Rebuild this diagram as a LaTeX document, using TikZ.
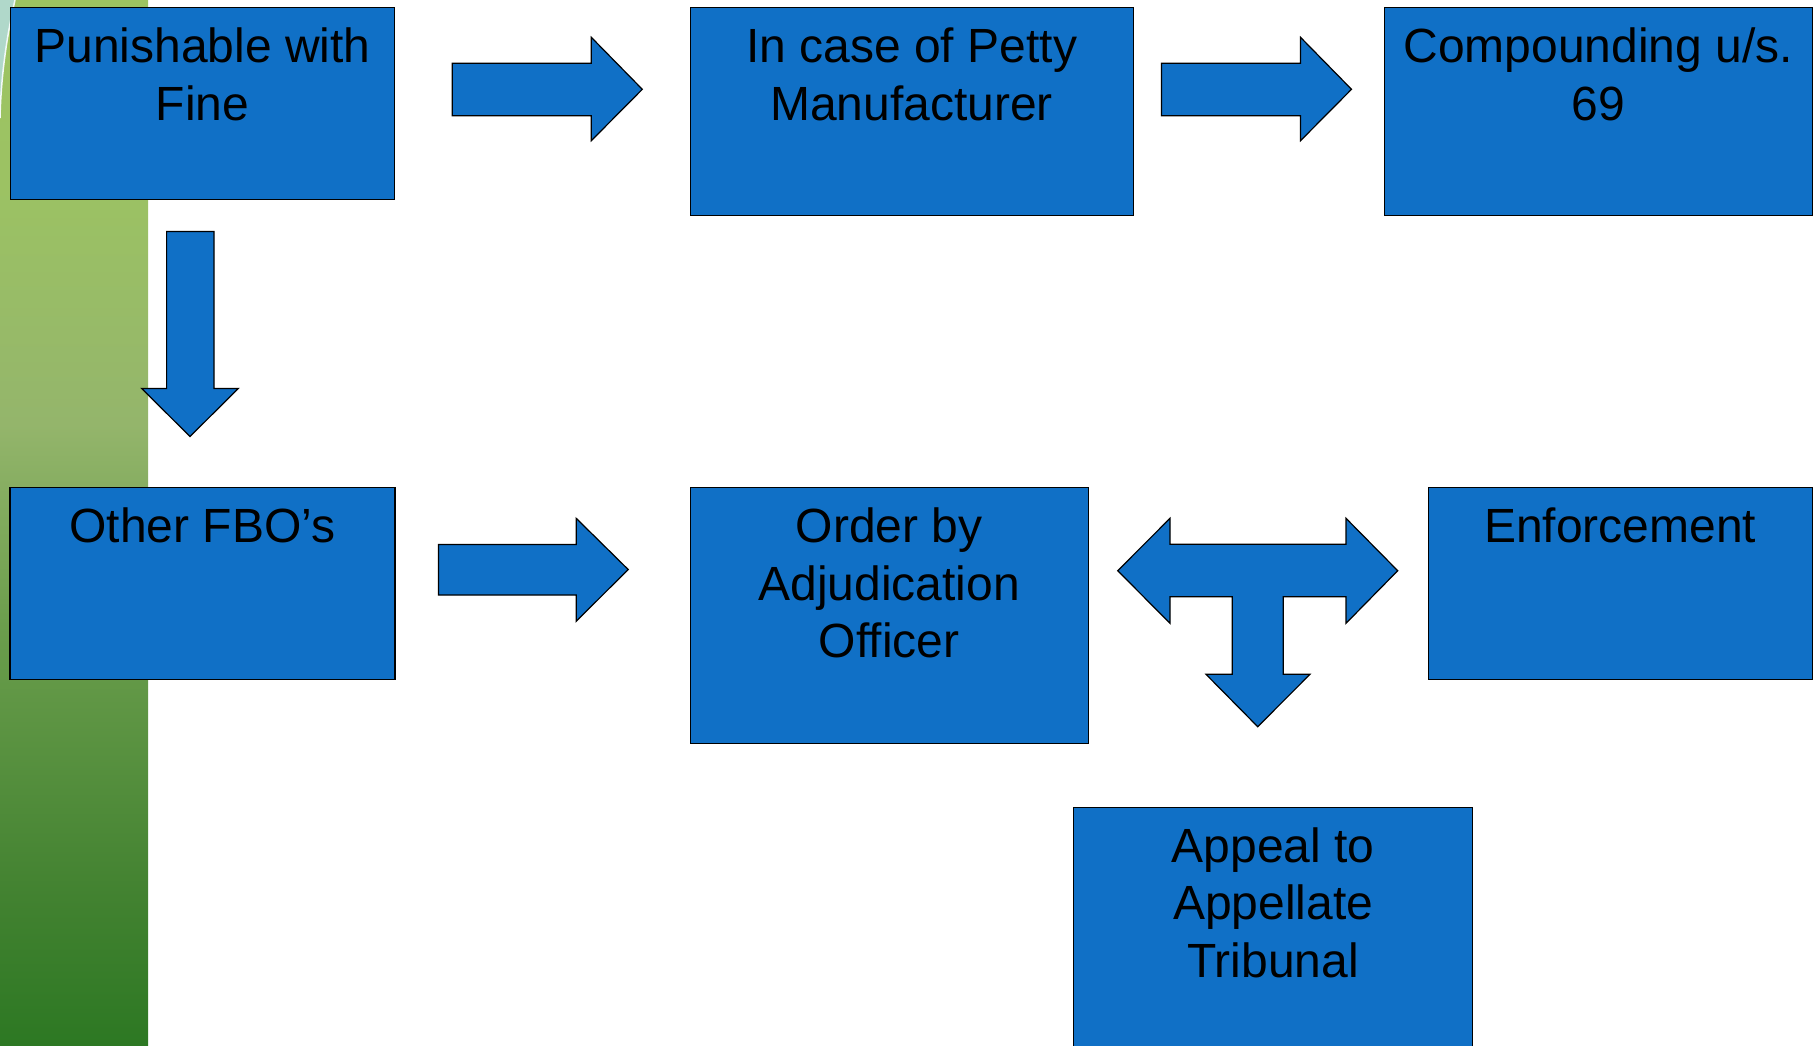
\documentclass[tikz,border=0pt]{standalone}
\usepackage{fontspec}
\setmainfont{Liberation Sans}
\definecolor{boxblue}{RGB}{16,112,198}
\definecolor{arcfill}{RGB}{176,216,202}
\pgfdeclareverticalshading{greenstrip}{100bp}{rgb(0bp)=(0.176,0.471,0.137); rgb(25bp)=(0.176,0.471,0.137); rgb(32.2bp)=(0.26,0.51,0.19); rgb(45.1bp)=(0.42,0.62,0.30); rgb(54.7bp)=(0.58,0.71,0.42); rgb(65.7bp)=(0.61,0.76,0.39); rgb(75bp)=(0.61,0.77,0.38); rgb(100bp)=(0.61,0.77,0.38)}
\tikzset{
  box/.style={draw=black, line width=1.2pt, fill=boxblue, inner sep=0pt, anchor=north west},
  lbl/.style={font=\fontsize{48}{57.6}\selectfont, align=center, anchor=base, inner sep=0pt, text=black},
  blockarrow/.style={draw=black, line width=1.2pt, fill=boxblue, line join=miter}
}
\begin{document}
\begin{tikzpicture}[x=1pt, y=-1pt]
\useasboundingbox (0,0) rectangle (1814,1045);
\clip (0,0) rectangle (1814,1045);
\fill[white] (0,0) rectangle (1814,1045);
% green side strip
\shade[shading=greenstrip] (0,0) rectangle (148,1045);
\fill[arcfill] (0,0) -- (15,0) .. controls (7,35) and (1,75) .. (0,118) -- cycle;
\draw[white!85!arcfill, line width=1.5pt] (15,0) .. controls (7,35) and (1,75) .. (0,118);
% boxes
\node[box, minimum width=384pt, minimum height=192pt] (b1) at (10,7) {};
\node[box, minimum width=443pt, minimum height=208pt] (b2) at (689.5,7) {};
\node[box, minimum width=428pt, minimum height=208pt] (b3) at (1383.7,7) {};
\node[box, minimum width=385pt, minimum height=192pt] (b4) at (9.3,487) {};
\node[box, minimum width=398pt, minimum height=256pt] (b5) at (689.5,487) {};
\node[box, minimum width=384pt, minimum height=192pt] (b6) at (1427.6,487) {};
\node[box, minimum width=399pt, minimum height=270pt] (b7) at (1073,806.5) {};
% labels (base anchor = baseline of the last line)
\node[lbl] (t1) at ([yshift=-113.3pt]b1.north) {Punishable with\\Fine};
\node[lbl] (t2) at ([yshift=-113.3pt]b2.north) {In case of Petty\\Manufacturer};
\node[lbl] (t3) at ([yshift=-113.3pt]b3.north) {Compounding u/s.\\69};
\node[lbl] (t4) at ([yshift=-55.7pt]b4.north) {Other FBO’s};
\node[lbl] (t5) at ([yshift=-170.9pt]b5.north) {Order by\\Adjudication\\Officer};
\node[lbl] (t6) at ([yshift=-55.7pt]b6.north) {Enforcement};
\node[lbl] (t7) at ([yshift=-170.9pt]b7.north) {Appeal to\\Appellate\\Tribunal};
% block arrows
\draw[blockarrow] (452.3,63.3) -- (591.3,63.3) -- (591.3,37.3) -- (642.3,89.3) -- (591.3,140.7) -- (591.3,115.7) -- (452.3,115.7) -- cycle;
\draw[blockarrow] (1161.5,63.3) -- (1300.5,63.3) -- (1300.5,37.3) -- (1351.5,89.3) -- (1300.5,140.7) -- (1300.5,115.7) -- (1161.5,115.7) -- cycle;
\draw[blockarrow] (166.6,231.4) -- (214,231.4) -- (214,388.5) -- (238.3,388.5) -- (190,436.5) -- (141.7,388.5) -- (166.6,388.5) -- cycle;
\draw[blockarrow] (438.5,544.5) -- (576.2,544.5) -- (576.2,518.3) -- (628.2,569.5) -- (576.2,621.3) -- (576.2,595) -- (438.5,595) -- cycle;
\draw[blockarrow] (1117.7,570.7) -- (1170,518.3) -- (1170,544.3) -- (1346,544.3) -- (1346,518.3) -- (1397.7,570.7) -- (1346,623.3) -- (1346,596.7) -- (1283.3,596.7) -- (1283.3,674.3) -- (1310,674.3) -- (1257.7,726.7) -- (1206,674.3) -- (1232.3,674.3) -- (1232.3,596.7) -- (1170,596.7) -- (1170,623.3) -- cycle;
\end{tikzpicture}
\end{document}
